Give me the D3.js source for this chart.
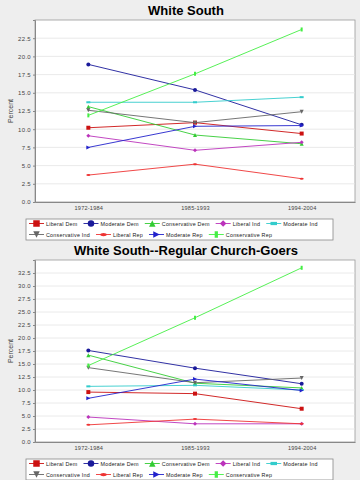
<!DOCTYPE html>
<html>
<head>
<meta charset="utf-8">
<script src="https://cdn.jsdelivr.net/npm/d3@7"></script>
<style>
  body { margin: 0; background: #eeeeee; }
  svg { display: block; font-family: "Liberation Sans", Arial, sans-serif; }
</style>
</head>
<body>
<svg id="chart" width="360" height="480"></svg>
<script>
// categories on the x axis
const periods = ["1972-1984", "1985-1993", "1994-2004"];

const seriesNames = [
  "Liberal Dem", "Moderate Dem", "Conservative Dem",
  "Liberal Ind", "Moderate Ind", "Conservative Ind",
  "Liberal Rep", "Moderate Rep", "Conservative Rep"
];

// percent, one row per series (same order as seriesNames)
const southValues = [
  [10.2, 10.9, 9.4],
  [18.9, 15.4, 10.6],
  [13.1, 9.2, 8.0],
  [9.1, 7.1, 8.2],
  [13.7, 13.7, 14.4],
  [12.6, 10.9, 12.4],
  [3.7, 5.2, 3.2],
  [7.5, 10.4, 10.5],
  [11.9, 17.6, 23.7]
];

const churchValues = [
  [9.6, 9.3, 6.4],
  [17.6, 14.2, 11.2],
  [16.7, 11.3, 10.4],
  [4.8, 3.5, 3.5],
  [10.7, 10.9, 10.0],
  [14.3, 11.4, 12.3],
  [3.3, 4.4, 3.5],
  [8.4, 12.1, 9.9],
  [14.7, 23.9, 33.5]
];

const southTicks = d3.range(0, 25, 2.5);
const churchTicks = d3.range(0, 35, 2.5);

const colors = ["#cc1111", "#1a1a9a", "#33cc33", "#bb33bb", "#33cccc",
                "#666666", "#ee3333", "#2222cc", "#44ee44"];

// jfreechart-ish shape sequence
function shapePath(i, s) {
  const h = s / 2;
  switch (i) {
    case 0: return `M${-h},${-h}h${s}v${s}h${-s}Z`;
    case 1: return d3.symbol(d3.symbolCircle, Math.PI * h * h)();
    case 2: return `M0,${-h}L${h},${h}L${-h},${h}Z`;
    case 3: return `M0,${-h}L${h},0L0,${h}L${-h},0Z`;
    case 4: return `M${-h},${-h / 2}h${s}v${h}h${-s}Z`;
    case 5: return `M${-h},${-h}L${h},${-h}L0,${h}Z`;
    case 6: return `M${-h},0A${h},${h / 2} 0 1,0 ${h},0A${h},${h / 2} 0 1,0 ${-h},0Z`;
    case 7: return `M${-h},${-h}L${h},0L${-h},${h}Z`;
    default: return `M${-h / 2},${-h}h${h}v${s}h${-h}Z`;
  }
}

const svg = d3.select("#chart");

function drawPanel(top, title, values, ticks, yMax) {
  const g = svg.append("g").attr("transform", `translate(0,${top})`);
  const plot = {left: 35, right: 355, top: 20, bottom: 202};

  g.append("text")
    .attr("x", 186).attr("y", 15)
    .attr("text-anchor", "middle")
    .style("font-size", "13px").style("font-weight", "bold")
    .text(title);

  const x = d3.scalePoint().domain(periods).range([plot.left, plot.right]).padding(0.5);
  const y = d3.scaleLinear().domain([0, yMax]).range([plot.bottom, plot.top]);

  g.append("rect")
    .attr("x", plot.left).attr("y", plot.top)
    .attr("width", plot.right - plot.left).attr("height", plot.bottom - plot.top)
    .attr("fill", "#fff").attr("stroke", "#999").attr("stroke-width", 0.8);

  // grid
  g.append("g").selectAll("line").data(ticks.slice(1)).join("line")
    .attr("x1", plot.left).attr("x2", plot.right)
    .attr("y1", d => y(d)).attr("y2", d => y(d))
    .attr("stroke", "#e4e4e4").attr("stroke-width", 0.8);

  const yAxis = g.append("g").attr("transform", `translate(${plot.left},0)`)
    .call(d3.axisLeft(y).tickValues(ticks).tickFormat(d3.format(".1f")).tickSize(2).tickPadding(2));
  yAxis.select(".domain").attr("stroke", "#888");
  yAxis.selectAll(".tick line").attr("stroke", "#888");
  yAxis.selectAll("text").style("font-size", "6px").attr("fill", "#444").style("letter-spacing", "0.3px");

  const xAxis = g.append("g").attr("transform", `translate(0,${plot.bottom})`)
    .call(d3.axisBottom(x).tickSize(0).tickPadding(4));
  xAxis.select(".domain").attr("stroke", "#888");
  xAxis.selectAll("text").style("font-size", "5.6px").attr("fill", "#444").style("letter-spacing", "0.2px");

  g.append("text")
    .attr("transform", `translate(13,${(plot.top + plot.bottom) / 2}) rotate(-90)`)
    .attr("text-anchor", "middle")
    .style("font-size", "7px").attr("fill", "#444")
    .text("Percent");

  const line = d3.line().x((d, i) => x(periods[i])).y(d => y(d));
  values.forEach((row, si) => {
    g.append("path").datum(row)
      .attr("d", line).attr("fill", "none")
      .attr("stroke", colors[si]).attr("stroke-width", 0.9);
    g.append("g").selectAll("path").data(row).join("path")
      .attr("transform", (d, i) => `translate(${x(periods[i])},${y(d)})`)
      .attr("d", shapePath(si, 4))
      .attr("fill", colors[si]);
  });

  // legend: five items on the first row, the rest on the second
  const lg = g.append("g");
  lg.append("rect")
    .attr("x", 26).attr("y", 219).attr("width", 307).attr("height", 21)
    .attr("fill", "#fff").attr("stroke", "#888").attr("stroke-width", 0.8);
  let cx = 28;
  seriesNames.forEach((name, si) => {
    const row = si < 5 ? 0 : 1;
    if (si === 5) cx = 28;
    const it = lg.append("g").attr("transform", `translate(${cx},${223.5 + row * 11})`);
    const t = it.append("text")
      .attr("x", 18).attr("y", 2)
      .style("font-size", "5.4px").style("letter-spacing", "0.22px").attr("fill", "#222")
      .text(name);
    it.append("line").attr("x1", 1).attr("x2", 16).attr("stroke", colors[si]).attr("stroke-width", 0.9);
    it.append("path").attr("transform", "translate(8.5,0)").attr("d", shapePath(si, 6.5)).attr("fill", colors[si]);
    cx += 18 + t.node().getComputedTextLength() + 5;
  });
}

drawPanel(0, "White South", southValues, southTicks, 25);
drawPanel(240, "White South--Regular Church-Goers", churchValues, churchTicks, 35);
</script>
</body>
</html>
